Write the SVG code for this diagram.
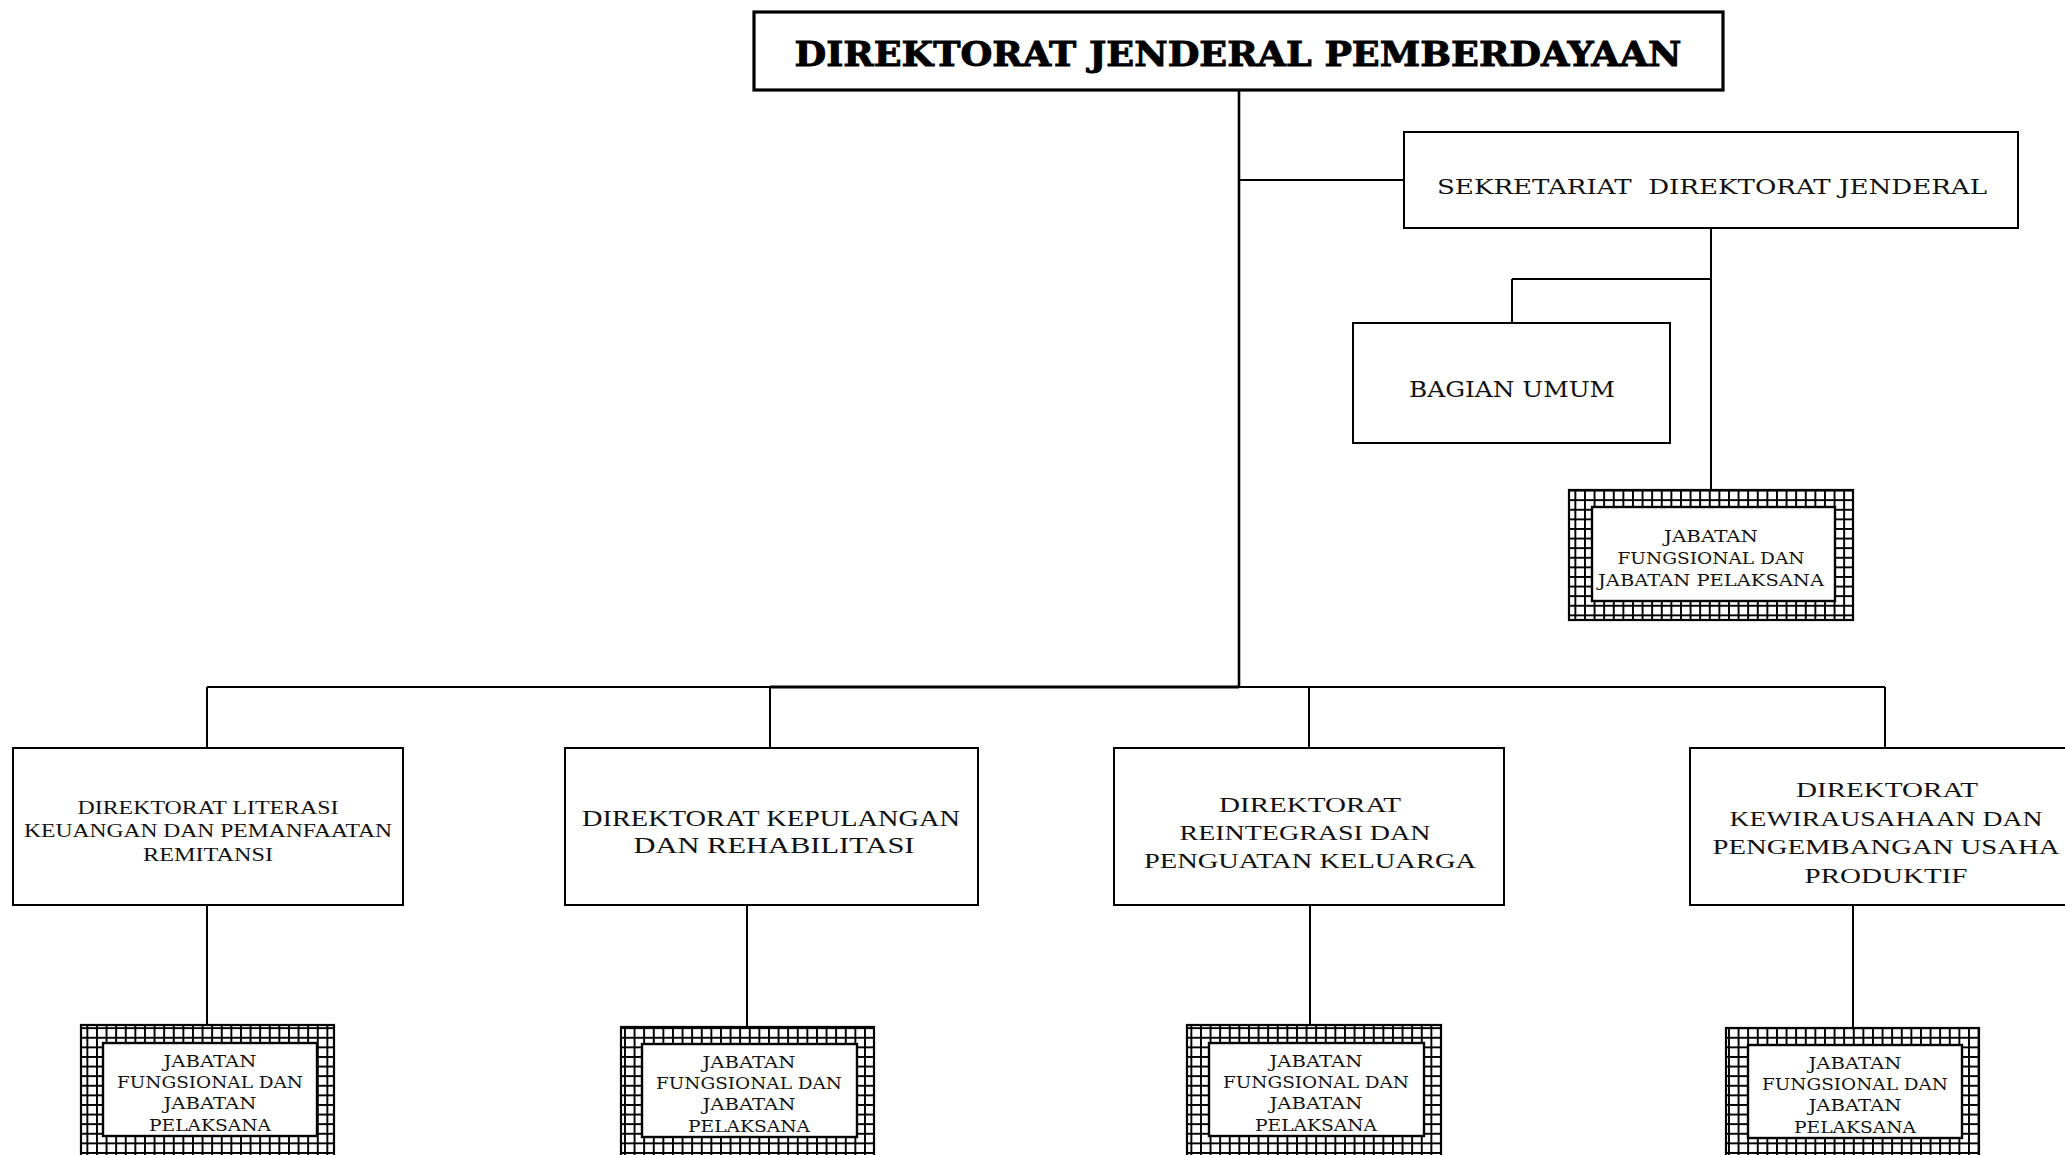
<svg xmlns="http://www.w3.org/2000/svg" width="2065" height="1155" viewBox="0 0 2065 1155">
  <style>
    .box { fill: #fff; stroke: #000; stroke-width: 2; }
    .head { fill: #fff; stroke: #000; stroke-width: 3.2; }
    .hatch { fill: url(#grid); stroke: #000; stroke-width: 2.2; }
    .inner { fill: #fff; stroke: #000; stroke-width: 2.4; }
    .wire { stroke: #000; stroke-width: 2; fill: none; }
    .t { font-family: "DejaVu Serif", "Liberation Serif", serif; fill: #111; text-anchor: middle; }
    .d { font-family: "Liberation Serif", "DejaVu Serif", serif; fill: #111; text-anchor: middle; }
    .title { font-family: "DejaVu Serif", "Liberation Serif", serif; font-weight: bold; fill: #000; stroke: #000; stroke-width: 0.9; text-anchor: middle; font-size: 33px; }
    .jf { font-size: 16.5px; }
  </style>
  <defs>
    <!-- square mesh used for the functional-position frames -->
    <pattern id="grid" width="9.6" height="9.6" patternUnits="userSpaceOnUse">
      <rect width="9.6" height="9.6" fill="#fff"/>
      <path d="M0 1H9.6M1 0V9.6" stroke="#000" stroke-width="1.6" shape-rendering="crispEdges"/>
    </pattern>
  </defs>

  <!-- connectors -->
  <g id="connectors" class="wire">
    <path d="M1239 91V687" stroke-width="2.6"/>
    <path d="M1239 180H1404"/>
    <path d="M1711 228V490"/>
    <path d="M1512 279H1711"/>
    <path d="M1512 279V323"/>
    <path d="M207 687H770"/>
    <path d="M770 687H1239" stroke-width="3"/>
    <path d="M1239 687H1885"/>
    <path d="M207 687V748"/>
    <path d="M770 687V748"/>
    <path d="M1309 687V748"/>
    <path d="M1885 687V748"/>
    <path d="M207 905V1025"/>
    <path d="M747 905V1027"/>
    <path d="M1310 905V1025"/>
    <path d="M1853 905V1028"/>
  </g>

  <!-- head of the organisation -->
  <g id="dirjen">
    <rect class="head" x="754" y="12" width="969" height="78"/>
    <text class="title" x="1238" y="66" textLength="887" lengthAdjust="spacingAndGlyphs">DIREKTORAT JENDERAL PEMBERDAYAAN</text>
  </g>

  <g id="sekretariat">
    <rect class="box" x="1404" y="132" width="614" height="96"/>
    <text class="t" x="1712" y="194" font-size="20" textLength="550" lengthAdjust="spacingAndGlyphs" xml:space="preserve">SEKRETARIAT  DIREKTORAT JENDERAL</text>
  </g>

  <g id="bagian-umum">
    <rect class="box" x="1353" y="323" width="317" height="120"/>
    <text class="t" x="1512" y="397" font-size="23" textLength="206" lengthAdjust="spacingAndGlyphs">BAGIAN UMUM</text>
  </g>

  <g id="jf-sekretariat">
    <rect class="hatch" x="1569" y="490" width="284" height="130"/>
    <rect class="inner" x="1592" y="507" width="243" height="94"/>
    <text class="t jf" x="1711" y="542" textLength="94" lengthAdjust="spacingAndGlyphs">JABATAN</text>
    <text class="t jf" x="1711" y="564" textLength="187" lengthAdjust="spacingAndGlyphs">FUNGSIONAL DAN</text>
    <text class="t jf" x="1711" y="586" textLength="226" lengthAdjust="spacingAndGlyphs">JABATAN PELAKSANA</text>
  </g>

  <!-- directorates -->
  <g id="dit-literasi">
    <rect class="box" x="13" y="748" width="390" height="157"/>
    <text class="d" x="208" y="814" font-size="18.5" textLength="261" lengthAdjust="spacingAndGlyphs">DIREKTORAT LITERASI</text>
    <text class="d" x="208" y="837" font-size="18.5" textLength="368" lengthAdjust="spacingAndGlyphs">KEUANGAN DAN PEMANFAATAN</text>
    <text class="d" x="208" y="861" font-size="18.5" textLength="130" lengthAdjust="spacingAndGlyphs">REMITANSI</text>
  </g>

  <g id="dit-kepulangan">
    <rect class="box" x="565" y="748" width="413" height="157"/>
    <text class="d" x="771" y="826" font-size="22.5" textLength="378" lengthAdjust="spacingAndGlyphs">DIREKTORAT KEPULANGAN</text>
    <text class="d" x="774" y="853" font-size="22.5" textLength="281" lengthAdjust="spacingAndGlyphs">DAN REHABILITASI</text>
  </g>

  <g id="dit-reintegrasi">
    <rect class="box" x="1114" y="748" width="390" height="157"/>
    <text class="d" x="1310" y="812" font-size="21.5" textLength="182" lengthAdjust="spacingAndGlyphs">DIREKTORAT</text>
    <text class="d" x="1305" y="840" font-size="21.5" textLength="251" lengthAdjust="spacingAndGlyphs">REINTEGRASI DAN</text>
    <text class="d" x="1310" y="868" font-size="21.5" textLength="332" lengthAdjust="spacingAndGlyphs">PENGUATAN KELUARGA</text>
  </g>

  <g id="dit-kewirausahaan">
    <rect class="box" x="1690" y="748" width="392" height="157"/>
    <text class="d" x="1887" y="797" font-size="21" textLength="182" lengthAdjust="spacingAndGlyphs">DIREKTORAT</text>
    <text class="d" x="1886" y="826" font-size="21" textLength="313" lengthAdjust="spacingAndGlyphs">KEWIRAUSAHAAN DAN</text>
    <text class="d" x="1886" y="854" font-size="21" textLength="347" lengthAdjust="spacingAndGlyphs">PENGEMBANGAN USAHA</text>
    <text class="d" x="1886" y="883" font-size="21" textLength="163" lengthAdjust="spacingAndGlyphs">PRODUKTIF</text>
  </g>

  <!-- functional positions under each directorate -->
  <g id="jf-literasi">
    <rect class="hatch" x="81" y="1025" width="253" height="150"/>
    <rect class="inner" x="103" y="1043" width="214" height="93"/>
    <text class="t jf" x="210" y="1067" textLength="93" lengthAdjust="spacingAndGlyphs">JABATAN</text>
    <text class="t jf" x="210" y="1088" textLength="186" lengthAdjust="spacingAndGlyphs">FUNGSIONAL DAN</text>
    <text class="t jf" x="210" y="1109" textLength="93" lengthAdjust="spacingAndGlyphs">JABATAN</text>
    <text class="t jf" x="210" y="1131" textLength="122" lengthAdjust="spacingAndGlyphs">PELAKSANA</text>
  </g>

  <g id="jf-kepulangan">
    <rect class="hatch" x="621" y="1027" width="253" height="150"/>
    <rect class="inner" x="642" y="1044" width="215" height="93"/>
    <text class="t jf" x="749" y="1068" textLength="93" lengthAdjust="spacingAndGlyphs">JABATAN</text>
    <text class="t jf" x="749" y="1089" textLength="186" lengthAdjust="spacingAndGlyphs">FUNGSIONAL DAN</text>
    <text class="t jf" x="749" y="1110" textLength="93" lengthAdjust="spacingAndGlyphs">JABATAN</text>
    <text class="t jf" x="749" y="1132" textLength="122" lengthAdjust="spacingAndGlyphs">PELAKSANA</text>
  </g>

  <g id="jf-reintegrasi">
    <rect class="hatch" x="1187" y="1025" width="254" height="150"/>
    <rect class="inner" x="1209" y="1043" width="215" height="93"/>
    <text class="t jf" x="1316" y="1067" textLength="93" lengthAdjust="spacingAndGlyphs">JABATAN</text>
    <text class="t jf" x="1316" y="1088" textLength="186" lengthAdjust="spacingAndGlyphs">FUNGSIONAL DAN</text>
    <text class="t jf" x="1316" y="1109" textLength="93" lengthAdjust="spacingAndGlyphs">JABATAN</text>
    <text class="t jf" x="1316" y="1131" textLength="122" lengthAdjust="spacingAndGlyphs">PELAKSANA</text>
  </g>

  <g id="jf-kewirausahaan">
    <rect class="hatch" x="1726" y="1028" width="253" height="150"/>
    <rect class="inner" x="1748" y="1045" width="214" height="93"/>
    <text class="t jf" x="1855" y="1069" textLength="93" lengthAdjust="spacingAndGlyphs">JABATAN</text>
    <text class="t jf" x="1855" y="1090" textLength="186" lengthAdjust="spacingAndGlyphs">FUNGSIONAL DAN</text>
    <text class="t jf" x="1855" y="1111" textLength="93" lengthAdjust="spacingAndGlyphs">JABATAN</text>
    <text class="t jf" x="1855" y="1133" textLength="122" lengthAdjust="spacingAndGlyphs">PELAKSANA</text>
  </g>
</svg>
